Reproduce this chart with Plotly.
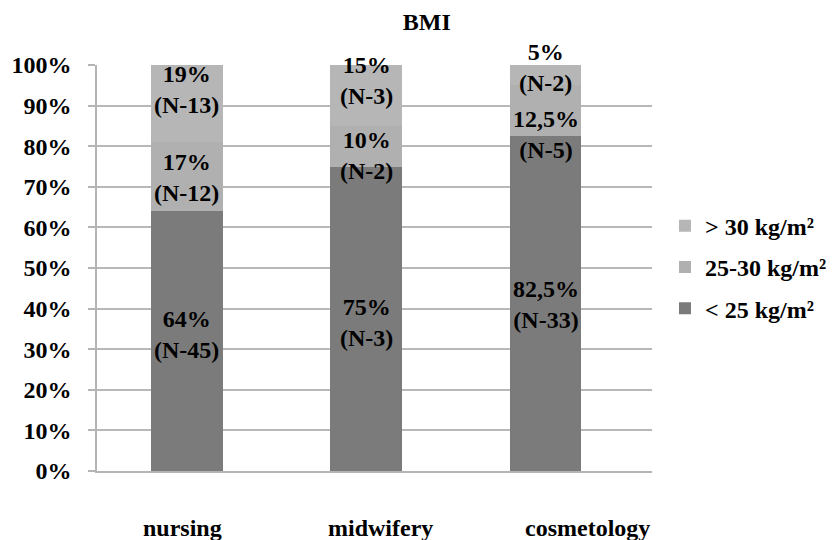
import plotly.graph_objects as go

# Share of students per BMI class, by study programme
categories = ["nursing", "midwifery", "cosmetology"]
bmi_classes = ["< 25 kg/m²", "25-30 kg/m²", "> 30 kg/m²"]
pct_under25 = [64, 75, 82.5]
pct_25_30 = [17, 10, 12.5]
pct_over30 = [19, 15, 5]
n_under25 = [45, 3, 33]
n_25_30 = [12, 2, 5]
n_over30 = [13, 3, 2]

# vertical nudge of the in-bar labels (percentage points), per class then programme
label_nudge = [[1.5, -0.8, -0.3], [-0.3, -2.4, -5.75], [3.5, 3.8, 2.0]]
# horizontal shift (px) of the programme names below the axis
cat_label_xshift = [-4, 14, 42]

colors = ["#7b7b7b", "#b0b0b0", "#b6b6b6"]
FONT = "Liberation Serif"
FS = 24

series_pct = [pct_under25, pct_25_30, pct_over30]
series_n = [n_under25, n_25_30, n_over30]


def fmt_pct(v):
    return f"{v:g}%".replace(".", ",")


fig = go.Figure()
for i, name in enumerate(bmi_classes):
    fig.add_trace(go.Bar(
        x=categories, y=series_pct[i], name=f"<b>{name}</b>",
        marker=dict(color=colors[i], line=dict(width=0)),
        legendgroup=f"g{i}", legendrank=len(bmi_classes) - i,
        hoverinfo="skip",
    ))

annotations = []
for j, cat in enumerate(categories):
    base = 0.0
    for i in range(len(bmi_classes)):
        v = series_pct[i][j]
        mid = base + v / 2 + label_nudge[i][j]
        annotations.append(dict(
            x=cat, y=mid, xref="x", yref="y", showarrow=False,
            text=f"<b>{fmt_pct(v)}</b><br><b>(N-{series_n[i][j]})</b>",
            font=dict(family=FONT, size=FS, color="#000000"),
            xanchor="center", yanchor="middle", align="center",
        ))
        base += v
    annotations.append(dict(
        x=cat, y=0, xref="x", yref="y", showarrow=False,
        text=f"<b>{cat}</b>", xshift=cat_label_xshift[j], yshift=-57,
        font=dict(family=FONT, size=FS, color="#000000"),
        xanchor="center", yanchor="middle",
    ))

fig.update_layout(
    width=837, height=540,
    margin=dict(l=97, r=185, t=65, b=69, autoexpand=False),
    paper_bgcolor="white", plot_bgcolor="white",
    barmode="stack", bargap=0.6,
    title=dict(text="<b>BMI</b>", x=0.51, xref="container", xanchor="center",
               y=1 - 22 / 540, yref="container", yanchor="middle",
               font=dict(family=FONT, size=FS, color="#000000")),
    font=dict(family=FONT, size=FS, color="#000000"),
    showlegend=True,
    legend=dict(x=1.0234, xanchor="left", y=0.502, yanchor="middle",
                traceorder="grouped", tracegroupgap=7,
                font=dict(family=FONT, size=FS, color="#000000"),
                bgcolor="rgba(0,0,0,0)"),
    annotations=annotations,
)

fig.update_xaxes(showticklabels=False, showline=True, linecolor="#b4b4b4",
                 linewidth=1.5, ticks="", showgrid=False, zeroline=False)
fig.update_yaxes(range=[0, 100], dtick=10,
                 tickprefix="<b>", ticksuffix="%</b>",
                 tickfont=dict(family=FONT, size=FS, color="#000000"),
                 showline=True, linecolor="#b4b4b4", linewidth=1.5,
                 ticks="outside", ticklen=7, tickcolor="#b4b4b4", tickwidth=1.5,
                 ticklabelstandoff=12,
                 showgrid=True, gridcolor="#b8b8b8", gridwidth=1.5,
                 zeroline=False)

fig.write_html("out.html")
